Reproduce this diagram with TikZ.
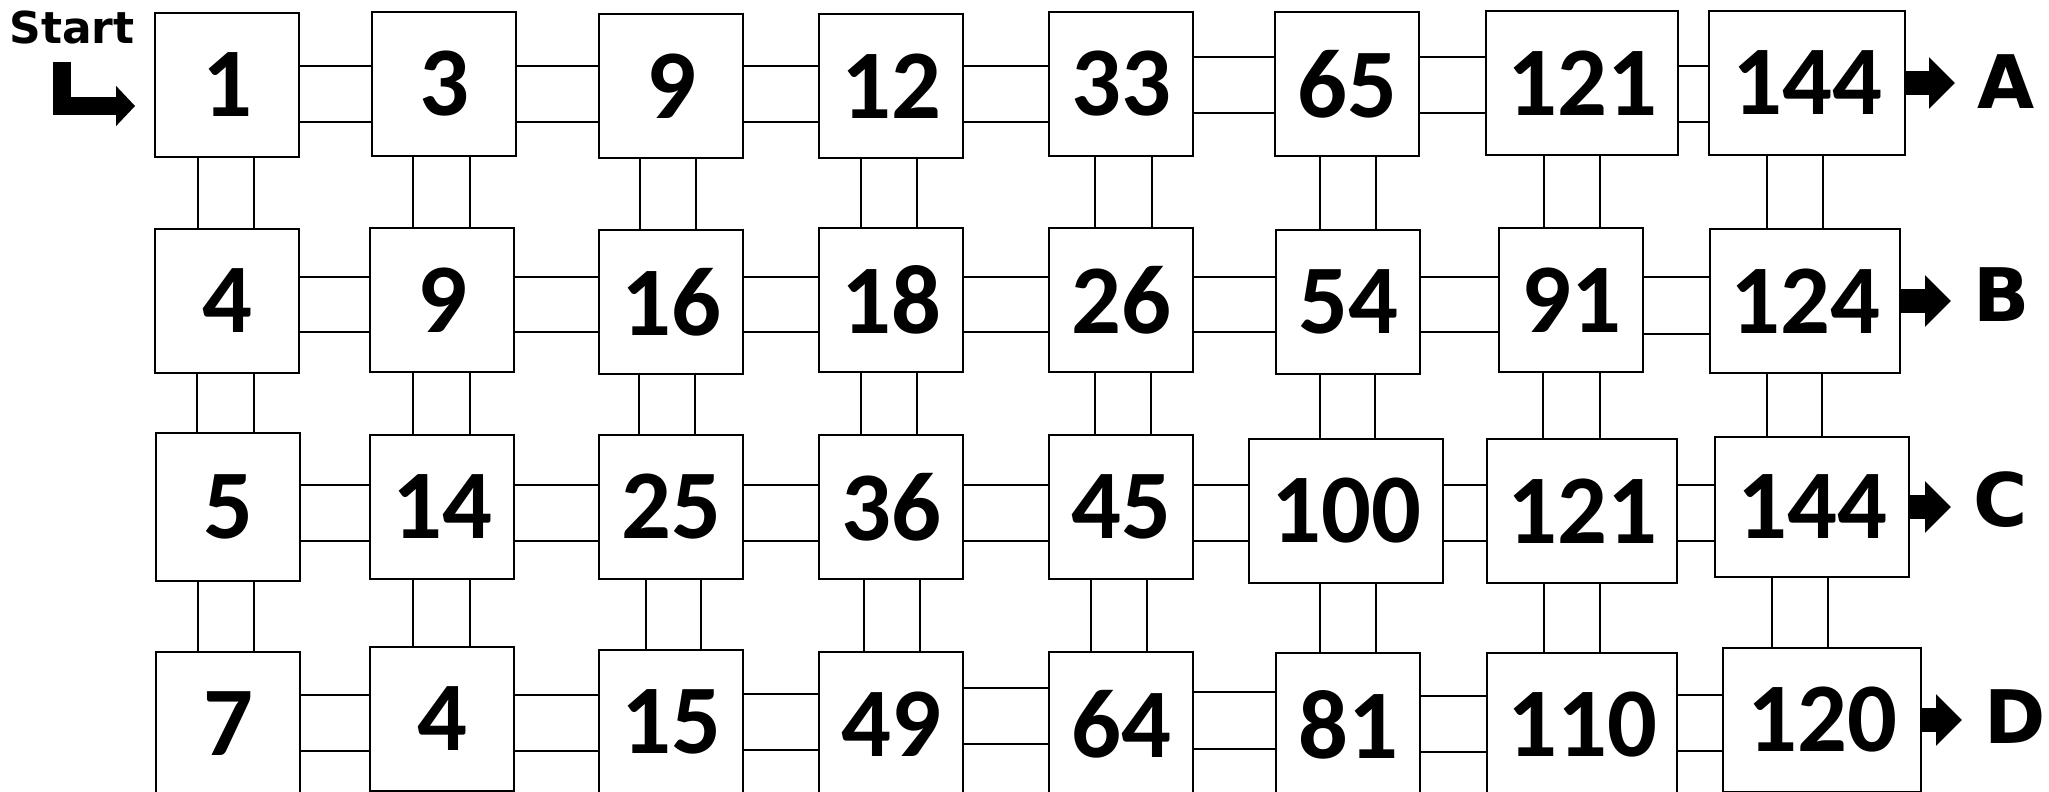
\documentclass[tikz,border=0pt]{standalone}
\usepackage{fontspec}
\setmainfont{Carlito}
\newfontfamily\markfont{DejaVu Sans}
\usetikzlibrary{arrows.meta}

\begin{document}
\begin{tikzpicture}[
    x=0.01cm, y=-0.01cm,
    cell/.style={rectangle, draw=black, line width=0.5pt, minimum width=1.44cm, minimum height=1.44cm, inner sep=0pt, font=\fontsize{28}{28}\selectfont\bfseries},
    wide/.style={cell, minimum width=1.92cm},
    ln/.style={line width=0.5pt, draw=black},
    exitlabel/.style={anchor=west, inner xsep=0.22cm, inner ysep=0pt, font=\markfont\fontsize{21}{21}\selectfont\bfseries},
    fat/.style={line width=0.24cm, -{Triangle[length=0.26cm, width=0.5cm]}},
    startarrow/.style={line width=0.18cm, line join=miter, -{Triangle[length=0.19cm, width=0.39cm]}}
  ]
  \useasboundingbox (0,0) rectangle (2049,792);

  % row A
  \node[cell] (a1) at (227,85) {1};
  \node[cell] (a2) at (444,84) {3};
  \node[cell] (a3) at (671,86) {9};
  \node[cell] (a4) at (891,86) {12};
  \node[cell] (a5) at (1121,84) {33};
  \node[cell] (a6) at (1347,84) {65};
  \node[wide] (a7) at (1582,83) {121};
  \node[wide, minimum width=1.96cm] (a8) at (1807,83) {144};

  % row B
  \node[cell] (b1) at (227,301) {4};
  \node[cell] (b2) at (442,300) {9};
  \node[cell] (b3) at (671,302) {16};
  \node[cell] (b4) at (891,300) {18};
  \node[cell] (b5) at (1121,300) {26};
  \node[cell] (b6) at (1348,302) {54};
  \node[cell] (b7) at (1571,300) {91};
  \node[wide, minimum width=1.90cm] (b8) at (1805,301) {124};

  % row C
  \node[cell, minimum height=1.48cm] (c1) at (228,507) {5};
  \node[cell] (c2) at (442,507) {14};
  \node[cell] (c3) at (671,507) {25};
  \node[cell] (c4) at (891,507) {36};
  \node[cell] (c5) at (1121,507) {45};
  \node[wide, minimum width=1.94cm] (c6) at (1346,511) {100};
  \node[wide, minimum width=1.90cm] (c7) at (1582,511) {121};
  \node[wide, minimum width=1.94cm, minimum height=1.40cm] (c8) at (1812,507) {144};

  % row D
  \node[cell] (d1) at (228,724) {7};
  \node[cell] (d2) at (442,719) {4};
  \node[cell] (d3) at (671,722) {15};
  \node[cell] (d4) at (891,724) {49};
  \node[cell] (d5) at (1121,724) {64};
  \node[cell] (d6) at (1348,725) {81};
  \node[wide, minimum width=1.90cm] (d7) at (1582,725) {110};
  \node[wide, minimum width=1.98cm] (d8) at (1822,720) {120};

  % start and exits
  \node[font=\markfont\fontsize{12.5}{12.5}\selectfont\bfseries, inner sep=0pt] (start) at (72,28) {Start};
  \coordinate (entry) at (62,62);
  \draw[startarrow] (entry) |- ([shift={(-0.19cm,-0.21cm)}]a1.west);

  \node[exitlabel] (la) at (1955,82) {A};
  \node[exitlabel] (lb) at (1951,295) {B};
  \node[exitlabel] (lc) at (1951,500) {C};
  \node[exitlabel] (ld) at (1962,717) {D};
  \draw[fat] (a8.east) -- (a8.east -| la.west);
  \draw[fat] (b8.east) -- (b8.east -| lb.west);
  \draw[fat] (c8.east) -- (c8.east -| lc.west);
  \draw[fat] (d8.east) -- (d8.east -| ld.west);

  % double links along the rows
  \foreach \ua/\ub/\ya/\yb in {a1/a2/66/122, a2/a3/66/122, a3/a4/66/122, a4/a5/66/122, a5/a6/57/113, a6/a7/57/113, a7/a8/66/122,
      b1/b2/277/332, b2/b3/277/332, b3/b4/277/332, b4/b5/277/332, b5/b6/277/332, b6/b7/277/332, b7/b8/277/334,
      c1/c2/485/541, c2/c3/485/541, c3/c4/485/541, c4/c5/485/541, c5/c6/485/541, c6/c7/485/541, c7/c8/485/541,
      d1/d2/695/751, d2/d3/695/751, d3/d4/694/750, d4/d5/688/744, d5/d6/692/749, d6/d7/696/752, d7/d8/695/751} {
    \draw[ln] (\ua.east |- 0,\ya) -- (\ub.west |- 0,\ya);
    \draw[ln] (\ua.east |- 0,\yb) -- (\ub.west |- 0,\yb);
  }

  % double links down the columns
  \foreach \ua/\ub/\xa/\xb in {a1/b1/198/254, a2/b2/413/470, a3/b3/640/696, a4/b4/861/917, a5/b5/1095/1152, a6/b6/1320/1376, a7/b7/1544/1600, a8/b8/1767/1823,
      b1/c1/197/254, b2/c2/413/470, b3/c3/639/695, b4/c4/861/917, b5/c5/1095/1151, b6/c6/1320/1375, b7/c7/1543/1600, b8/c8/1767/1822,
      c1/d1/198/254, c2/d2/413/470, c3/d3/646/701, c4/d4/864/920, c5/d5/1091/1147, c6/d6/1320/1376, c7/d7/1544/1600, c8/d8/1772/1828} {
    \draw[ln] (\ua.south -| \xa,0) -- (\ub.north -| \xa,0);
    \draw[ln] (\ua.south -| \xb,0) -- (\ub.north -| \xb,0);
  }
\end{tikzpicture}
\end{document}
